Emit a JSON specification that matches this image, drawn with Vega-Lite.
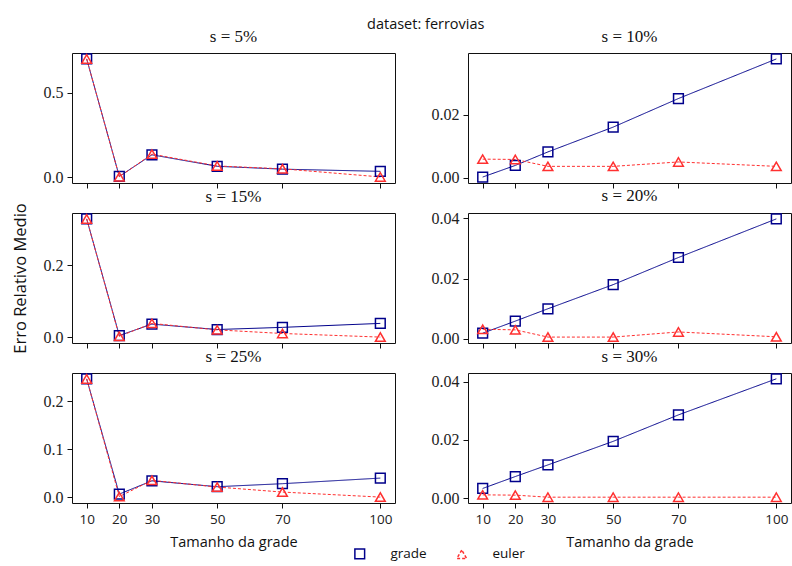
{
  "$schema": "https://vega.github.io/schema/vega-lite/v6.json",
  "background": "white",
  "padding": {"left": 12, "right": 1, "top": 17, "bottom": 2},
  "bounds": "flush",
  "spacing": 40,
  "title": {"text": "dataset: ferrovias", "font": "Open Sans", "fontSize": 14.5, "fontWeight": "normal", "color": "#111", "anchor": "middle", "offset": -5, "dx": 24},
  "data": {"values": [
    {"s": 5, "n": 10, "serie": "grade", "v": 0.700}, {"s": 5, "n": 20, "serie": "grade", "v": 0.004}, {"s": 5, "n": 30, "serie": "grade", "v": 0.132}, {"s": 5, "n": 50, "serie": "grade", "v": 0.064}, {"s": 5, "n": 70, "serie": "grade", "v": 0.047}, {"s": 5, "n": 100, "serie": "grade", "v": 0.034},
    {"s": 5, "n": 10, "serie": "euler", "v": 0.700}, {"s": 5, "n": 20, "serie": "euler", "v": 0.002}, {"s": 5, "n": 30, "serie": "euler", "v": 0.136}, {"s": 5, "n": 50, "serie": "euler", "v": 0.066}, {"s": 5, "n": 70, "serie": "euler", "v": 0.049}, {"s": 5, "n": 100, "serie": "euler", "v": 0.001},
    {"s": 10, "n": 10, "serie": "grade", "v": 0.0002}, {"s": 10, "n": 20, "serie": "grade", "v": 0.0039}, {"s": 10, "n": 30, "serie": "grade", "v": 0.0082}, {"s": 10, "n": 50, "serie": "grade", "v": 0.0161}, {"s": 10, "n": 70, "serie": "grade", "v": 0.0252}, {"s": 10, "n": 100, "serie": "grade", "v": 0.0378},
    {"s": 10, "n": 10, "serie": "euler", "v": 0.0059}, {"s": 10, "n": 20, "serie": "euler", "v": 0.0058}, {"s": 10, "n": 30, "serie": "euler", "v": 0.0036}, {"s": 10, "n": 50, "serie": "euler", "v": 0.0036}, {"s": 10, "n": 70, "serie": "euler", "v": 0.0050}, {"s": 10, "n": 100, "serie": "euler", "v": 0.0036},
    {"s": 15, "n": 10, "serie": "grade", "v": 0.328}, {"s": 15, "n": 20, "serie": "grade", "v": 0.0044}, {"s": 15, "n": 30, "serie": "grade", "v": 0.036}, {"s": 15, "n": 50, "serie": "grade", "v": 0.021}, {"s": 15, "n": 70, "serie": "grade", "v": 0.027}, {"s": 15, "n": 100, "serie": "grade", "v": 0.038},
    {"s": 15, "n": 10, "serie": "euler", "v": 0.328}, {"s": 15, "n": 20, "serie": "euler", "v": 0.002}, {"s": 15, "n": 30, "serie": "euler", "v": 0.038}, {"s": 15, "n": 50, "serie": "euler", "v": 0.020}, {"s": 15, "n": 70, "serie": "euler", "v": 0.010}, {"s": 15, "n": 100, "serie": "euler", "v": 0.0},
    {"s": 20, "n": 10, "serie": "grade", "v": 0.0019}, {"s": 20, "n": 20, "serie": "grade", "v": 0.0059}, {"s": 20, "n": 30, "serie": "grade", "v": 0.0100}, {"s": 20, "n": 50, "serie": "grade", "v": 0.0180}, {"s": 20, "n": 70, "serie": "grade", "v": 0.0270}, {"s": 20, "n": 100, "serie": "grade", "v": 0.0398},
    {"s": 20, "n": 10, "serie": "euler", "v": 0.0032}, {"s": 20, "n": 20, "serie": "euler", "v": 0.0030}, {"s": 20, "n": 30, "serie": "euler", "v": 0.0006}, {"s": 20, "n": 50, "serie": "euler", "v": 0.0006}, {"s": 20, "n": 70, "serie": "euler", "v": 0.0023}, {"s": 20, "n": 100, "serie": "euler", "v": 0.0007},
    {"s": 25, "n": 10, "serie": "grade", "v": 0.247}, {"s": 25, "n": 20, "serie": "grade", "v": 0.0063}, {"s": 25, "n": 30, "serie": "grade", "v": 0.034}, {"s": 25, "n": 50, "serie": "grade", "v": 0.0217}, {"s": 25, "n": 70, "serie": "grade", "v": 0.028}, {"s": 25, "n": 100, "serie": "grade", "v": 0.0397},
    {"s": 25, "n": 10, "serie": "euler", "v": 0.247}, {"s": 25, "n": 20, "serie": "euler", "v": 0.001}, {"s": 25, "n": 30, "serie": "euler", "v": 0.035}, {"s": 25, "n": 50, "serie": "euler", "v": 0.021}, {"s": 25, "n": 70, "serie": "euler", "v": 0.0105}, {"s": 25, "n": 100, "serie": "euler", "v": 0.0},
    {"s": 30, "n": 10, "serie": "grade", "v": 0.0033}, {"s": 30, "n": 20, "serie": "grade", "v": 0.0074}, {"s": 30, "n": 30, "serie": "grade", "v": 0.0114}, {"s": 30, "n": 50, "serie": "grade", "v": 0.0195}, {"s": 30, "n": 70, "serie": "grade", "v": 0.0286}, {"s": 30, "n": 100, "serie": "grade", "v": 0.041},
    {"s": 30, "n": 10, "serie": "euler", "v": 0.0011}, {"s": 30, "n": 20, "serie": "euler", "v": 0.0010}, {"s": 30, "n": 30, "serie": "euler", "v": 0.0003}, {"s": 30, "n": 50, "serie": "euler", "v": 0.0003}, {"s": 30, "n": 70, "serie": "euler", "v": 0.0003}, {"s": 30, "n": 100, "serie": "euler", "v": 0.0003}
  ]},
  "hconcat": [
    {
      "width": 1, "height": 450,
      "view": {"stroke": null},
      "mark": {"type": "point", "opacity": 0},
      "encoding": {
        "y": {"field": "v", "type": "quantitative", "axis": {"title": "Erro Relativo Medio", "labels": false, "ticks": false, "domain": false, "grid": false, "titlePadding": 3}}
      }
    },
    {
      "bounds": "flush",
      "spacing": {"row": 30, "column": 73},
      "columns": 2,
      "concat": [
        {
          "width": 323, "height": 130,
          "title": {"text": "s = 5%"},
          "transform": [{"filter": "datum.s == 5"}],
          "encoding": {
            "x": {"field": "n", "type": "quantitative", "scale": {"domain": [5.5, 104.5], "nice": false, "zero": false}, "axis": {"values": [10, 20, 30, 50, 70, 100], "labels": false, "title": null}},
            "y": {"field": "v", "type": "quantitative", "scale": {"domain": [-0.035, 0.735], "nice": false, "zero": false}, "axis": {"values": [0, 0.5], "format": ".1f", "title": null}},
            "color": {"field": "serie", "type": "nominal", "scale": {"domain": ["grade", "euler"], "range": ["#00008b", "#ff3030"]}, "legend": {"orient": "none", "legendX": 322, "legendY": 494, "direction": "horizontal", "title": null}},
            "order": {"field": "n", "type": "quantitative"}
          },
          "layer": [
            {"mark": {"type": "line", "strokeWidth": 1}, "encoding": {"strokeDash": {"field": "serie", "type": "nominal", "scale": {"domain": ["grade", "euler"], "range": [[1, 0], [3, 2]]}, "legend": null}}},
            {"mark": {"type": "point", "filled": false, "size": 95, "strokeWidth": 1.5, "opacity": 1}, "encoding": {"shape": {"field": "serie", "type": "nominal", "scale": {"domain": ["grade", "euler"], "range": ["square", "triangle-up"]}, "legend": {"orient": "none", "legendX": 322, "legendY": 494, "direction": "horizontal", "title": null}}}}
          ]
        },
        {
          "width": 323, "height": 130,
          "title": {"text": "s = 10%"},
          "transform": [{"filter": "datum.s == 10"}],
          "encoding": {
            "x": {"field": "n", "type": "quantitative", "scale": {"domain": [5.5, 104.5], "nice": false, "zero": false}, "axis": {"values": [10, 20, 30, 50, 70, 100], "labels": false, "title": null}},
            "y": {"field": "v", "type": "quantitative", "scale": {"domain": [-0.0017, 0.0397], "nice": false, "zero": false}, "axis": {"values": [0, 0.02], "format": ".2f", "title": null}},
            "color": {"field": "serie", "type": "nominal", "scale": {"domain": ["grade", "euler"], "range": ["#00008b", "#ff3030"]}, "legend": {"orient": "none", "legendX": 322, "legendY": 494, "direction": "horizontal", "title": null}},
            "order": {"field": "n", "type": "quantitative"}
          },
          "layer": [
            {"mark": {"type": "line", "strokeWidth": 1}, "encoding": {"strokeDash": {"field": "serie", "type": "nominal", "scale": {"domain": ["grade", "euler"], "range": [[1, 0], [3, 2]]}, "legend": null}}},
            {"mark": {"type": "point", "filled": false, "size": 95, "strokeWidth": 1.5, "opacity": 1}, "encoding": {"shape": {"field": "serie", "type": "nominal", "scale": {"domain": ["grade", "euler"], "range": ["square", "triangle-up"]}, "legend": {"orient": "none", "legendX": 322, "legendY": 494, "direction": "horizontal", "title": null}}}}
          ]
        },
        {
          "width": 323, "height": 130,
          "title": {"text": "s = 15%"},
          "transform": [{"filter": "datum.s == 15"}],
          "encoding": {
            "x": {"field": "n", "type": "quantitative", "scale": {"domain": [5.5, 104.5], "nice": false, "zero": false}, "axis": {"values": [10, 20, 30, 50, 70, 100], "labels": false, "title": null}},
            "y": {"field": "v", "type": "quantitative", "scale": {"domain": [-0.0164, 0.3444], "nice": false, "zero": false}, "axis": {"values": [0, 0.2], "format": ".1f", "title": null}},
            "color": {"field": "serie", "type": "nominal", "scale": {"domain": ["grade", "euler"], "range": ["#00008b", "#ff3030"]}, "legend": {"orient": "none", "legendX": 322, "legendY": 494, "direction": "horizontal", "title": null}},
            "order": {"field": "n", "type": "quantitative"}
          },
          "layer": [
            {"mark": {"type": "line", "strokeWidth": 1}, "encoding": {"strokeDash": {"field": "serie", "type": "nominal", "scale": {"domain": ["grade", "euler"], "range": [[1, 0], [3, 2]]}, "legend": null}}},
            {"mark": {"type": "point", "filled": false, "size": 95, "strokeWidth": 1.5, "opacity": 1}, "encoding": {"shape": {"field": "serie", "type": "nominal", "scale": {"domain": ["grade", "euler"], "range": ["square", "triangle-up"]}, "legend": {"orient": "none", "legendX": 322, "legendY": 494, "direction": "horizontal", "title": null}}}}
          ]
        },
        {
          "width": 323, "height": 130,
          "title": {"text": "s = 20%"},
          "transform": [{"filter": "datum.s == 20"}],
          "encoding": {
            "x": {"field": "n", "type": "quantitative", "scale": {"domain": [5.5, 104.5], "nice": false, "zero": false}, "axis": {"values": [10, 20, 30, 50, 70, 100], "labels": false, "title": null}},
            "y": {"field": "v", "type": "quantitative", "scale": {"domain": [-0.00136, 0.04176], "nice": false, "zero": false}, "axis": {"values": [0, 0.02, 0.04], "format": ".2f", "title": null}},
            "color": {"field": "serie", "type": "nominal", "scale": {"domain": ["grade", "euler"], "range": ["#00008b", "#ff3030"]}, "legend": {"orient": "none", "legendX": 322, "legendY": 494, "direction": "horizontal", "title": null}},
            "order": {"field": "n", "type": "quantitative"}
          },
          "layer": [
            {"mark": {"type": "line", "strokeWidth": 1}, "encoding": {"strokeDash": {"field": "serie", "type": "nominal", "scale": {"domain": ["grade", "euler"], "range": [[1, 0], [3, 2]]}, "legend": null}}},
            {"mark": {"type": "point", "filled": false, "size": 95, "strokeWidth": 1.5, "opacity": 1}, "encoding": {"shape": {"field": "serie", "type": "nominal", "scale": {"domain": ["grade", "euler"], "range": ["square", "triangle-up"]}, "legend": {"orient": "none", "legendX": 322, "legendY": 494, "direction": "horizontal", "title": null}}}}
          ]
        },
        {
          "width": 323, "height": 130,
          "title": {"text": "s = 25%"},
          "transform": [{"filter": "datum.s == 25"}],
          "encoding": {
            "x": {"field": "n", "type": "quantitative", "scale": {"domain": [5.5, 104.5], "nice": false, "zero": false}, "axis": {"values": [10, 20, 30, 50, 70, 100], "title": "Tamanho da grade"}},
            "y": {"field": "v", "type": "quantitative", "scale": {"domain": [-0.01235, 0.25935], "nice": false, "zero": false}, "axis": {"values": [0, 0.1, 0.2], "format": ".1f", "title": null}},
            "color": {"field": "serie", "type": "nominal", "scale": {"domain": ["grade", "euler"], "range": ["#00008b", "#ff3030"]}, "legend": {"orient": "none", "legendX": 322, "legendY": 494, "direction": "horizontal", "title": null}},
            "order": {"field": "n", "type": "quantitative"}
          },
          "layer": [
            {"mark": {"type": "line", "strokeWidth": 1}, "encoding": {"strokeDash": {"field": "serie", "type": "nominal", "scale": {"domain": ["grade", "euler"], "range": [[1, 0], [3, 2]]}, "legend": null}}},
            {"mark": {"type": "point", "filled": false, "size": 95, "strokeWidth": 1.5, "opacity": 1}, "encoding": {"shape": {"field": "serie", "type": "nominal", "scale": {"domain": ["grade", "euler"], "range": ["square", "triangle-up"]}, "legend": {"orient": "none", "legendX": 322, "legendY": 494, "direction": "horizontal", "title": null}}}}
          ]
        },
        {
          "width": 323, "height": 130,
          "title": {"text": "s = 30%"},
          "transform": [{"filter": "datum.s == 30"}],
          "encoding": {
            "x": {"field": "n", "type": "quantitative", "scale": {"domain": [5.5, 104.5], "nice": false, "zero": false}, "axis": {"values": [10, 20, 30, 50, 70, 100], "title": "Tamanho da grade"}},
            "y": {"field": "v", "type": "quantitative", "scale": {"domain": [-0.0017, 0.043], "nice": false, "zero": false}, "axis": {"values": [0, 0.02, 0.04], "format": ".2f", "title": null}},
            "color": {"field": "serie", "type": "nominal", "scale": {"domain": ["grade", "euler"], "range": ["#00008b", "#ff3030"]}, "legend": {"orient": "none", "legendX": 322, "legendY": 494, "direction": "horizontal", "title": null}},
            "order": {"field": "n", "type": "quantitative"}
          },
          "layer": [
            {"mark": {"type": "line", "strokeWidth": 1}, "encoding": {"strokeDash": {"field": "serie", "type": "nominal", "scale": {"domain": ["grade", "euler"], "range": [[1, 0], [3, 2]]}, "legend": null}}},
            {"mark": {"type": "point", "filled": false, "size": 95, "strokeWidth": 1.5, "opacity": 1}, "encoding": {"shape": {"field": "serie", "type": "nominal", "scale": {"domain": ["grade", "euler"], "range": ["square", "triangle-up"]}, "legend": {"orient": "none", "legendX": 322, "legendY": 494, "direction": "horizontal", "title": null}}}}
          ]
        }
      ],
      "resolve": {"scale": {"y": "independent", "x": "independent", "color": "shared", "shape": "shared", "strokeDash": "shared"}, "legend": {"color": "shared", "shape": "shared"}}
    }
  ],
  "resolve": {"scale": {"y": "independent", "x": "independent"}},
  "config": {
    "view": {"stroke": "#111", "strokeWidth": 1},
    "title": {"font": "Liberation Serif", "fontSize": 17, "fontWeight": "normal", "color": "#111", "offset": 5},
    "legend": {"labelFont": "Open Sans", "labelFontSize": 13.5, "labelColor": "#111", "labelOffset": 24, "columnPadding": 26, "symbolStrokeWidth": 1.5, "symbolSize": 95, "symbolDash": [1, 0]},
    "axis": {"domain": false, "grid": false, "ticks": true, "tickColor": "#111", "tickSize": 5, "labelPadding": 4, "labelColor": "#222", "titleColor": "#111", "titleFontWeight": "normal"},
    "axisX": {"labelFont": "Open Sans", "labelFontSize": 13.5, "titleFont": "Open Sans", "titleFontSize": 14.5, "titlePadding": 10},
    "axisY": {"labelFont": "Liberation Serif", "labelFontSize": 16, "titleFont": "Open Sans", "titleFontSize": 16.5, "titlePadding": 10}
  }
}
